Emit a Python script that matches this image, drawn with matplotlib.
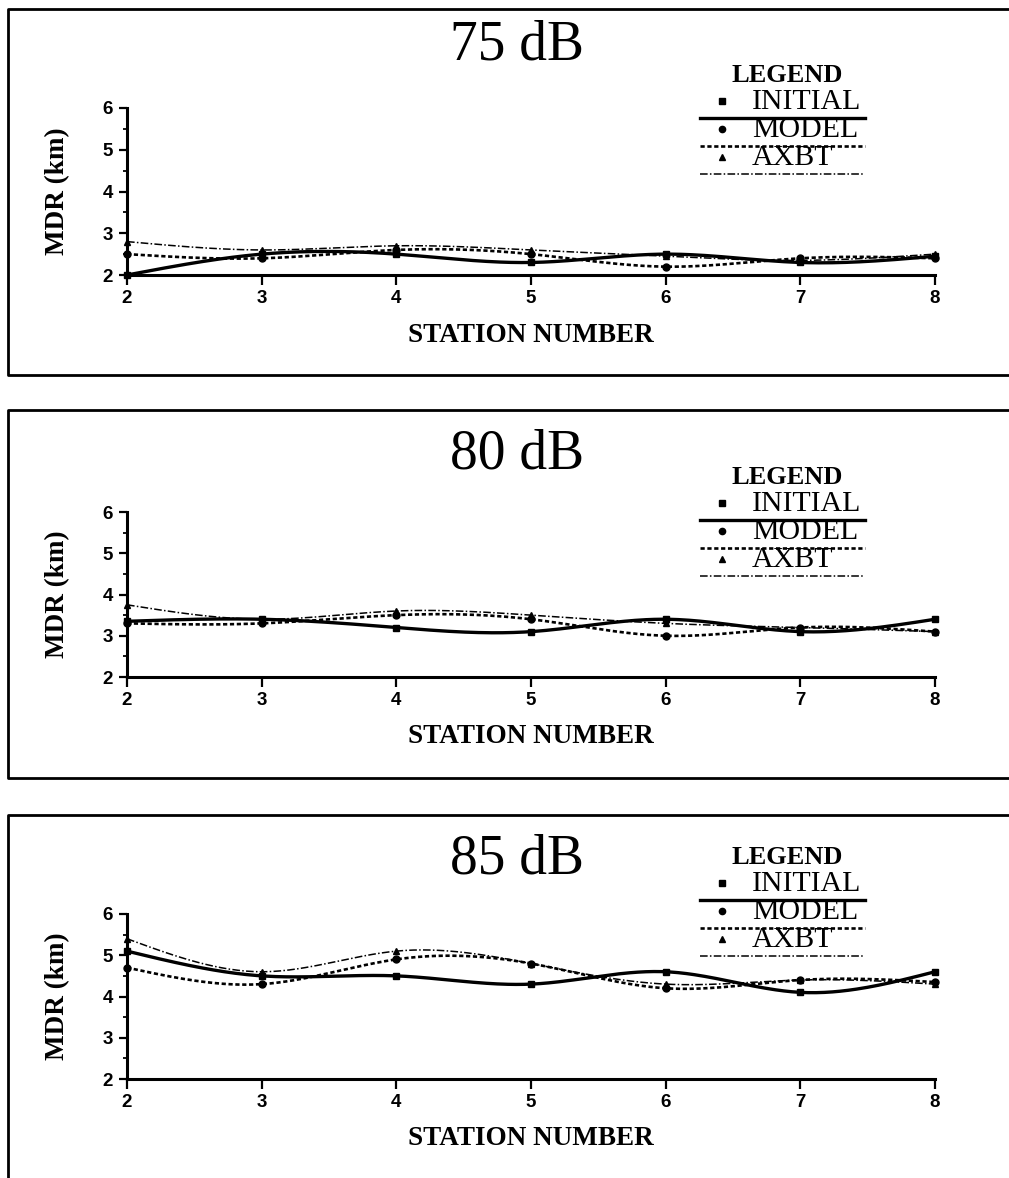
import matplotlib
matplotlib.use("Agg")
import matplotlib.pyplot as plt
import numpy as np
from matplotlib.lines import Line2D
from matplotlib.ticker import MultipleLocator

stations = [2, 3, 4, 5, 6, 7, 8]
levels = ["75 dB", "80 dB", "85 dB"]

# MDR (km) per station for each source level
initial_75 = [2.0, 2.5, 2.5, 2.3, 2.5, 2.3, 2.45]
model_75 = [2.5, 2.4, 2.6, 2.5, 2.2, 2.4, 2.4]
axbt_75 = [2.8, 2.6, 2.7, 2.6, 2.45, 2.35, 2.5]

initial_80 = [3.35, 3.4, 3.2, 3.1, 3.4, 3.1, 3.4]
model_80 = [3.3, 3.3, 3.5, 3.4, 3.0, 3.2, 3.1]
axbt_80 = [3.75, 3.4, 3.6, 3.5, 3.3, 3.2, 3.1]

initial_85 = [5.1, 4.5, 4.5, 4.3, 4.6, 4.1, 4.6]
model_85 = [4.7, 4.3, 4.9, 4.8, 4.2, 4.4, 4.35]
axbt_85 = [5.4, 4.6, 5.1, 4.8, 4.3, 4.4, 4.3]

series_names = ["INITIAL", "MODEL", "AXBT"]
panels = [
    (initial_75, model_75, axbt_75),
    (initial_80, model_80, axbt_80),
    (initial_85, model_85, axbt_85),
]

styles = [
    dict(ls="-", lw=2.4, marker="s"),
    dict(ls=(0, (1.6, 1.0)), lw=1.9, marker="o"),
    dict(ls=(0, (5, 1.5, 1, 1.5)), lw=1.1, marker="^"),
]


def smooth(x, y, n=300):
    # natural cubic spline through the points
    x = np.asarray(x, float)
    y = np.asarray(y, float)
    k = len(x)
    h = np.diff(x)
    A = np.zeros((k, k))
    r = np.zeros(k)
    A[0, 0] = A[-1, -1] = 1.0
    for i in range(1, k - 1):
        A[i, i - 1] = h[i - 1]
        A[i, i] = 2 * (h[i - 1] + h[i])
        A[i, i + 1] = h[i]
        r[i] = 6 * ((y[i + 1] - y[i]) / h[i] - (y[i] - y[i - 1]) / h[i - 1])
    M = np.linalg.solve(A, r)
    xs = np.linspace(x[0], x[-1], n)
    j = np.clip(np.searchsorted(x, xs) - 1, 0, k - 2)
    hj = h[j]
    a = x[j + 1] - xs
    b = xs - x[j]
    ys = (M[j] * a**3 + M[j + 1] * b**3) / (6 * hj) \
        + (y[j] / hj - M[j] * hj / 6) * a + (y[j + 1] / hj - M[j + 1] * hj / 6) * b
    return xs, ys


W, H = 1009, 1178
fig = plt.figure(figsize=(W / 100, H / 100), dpi=100)

serif = "Liberation Serif"
sans = "Liberation Sans"


def fx(px):
    return px / W


def fy(py):
    return 1 - py / H


axis_bottom = [275, 677, 1079]
axis_top = [108, 512, 914]
title_y = [45, 455, 860]
legend_top = [75, 477, 857]
frames = [(9, 375), (410, 778), (815, 1190)]

for p, (vals, lvl) in enumerate(zip(panels, levels)):
    ax = fig.add_axes([fx(127), fy(axis_bottom[p]), fx(935 - 127),
                       (axis_bottom[p] - axis_top[p]) / H])
    for v, st in zip(vals, styles):
        xs, ys = smooth(stations, v)
        ax.plot(xs, ys, color="black", ls=st["ls"], lw=st["lw"], clip_on=False)
        ax.plot(stations, v, ls="none", marker=st["marker"], ms=5,
                color="black", clip_on=False)

    ax.set_xlim(2, 8)
    ax.set_ylim(2, 6)
    ax.set_xticks(stations)
    ax.set_yticks([2, 3, 4, 5, 6])
    ax.yaxis.set_minor_locator(MultipleLocator(0.5))
    for s in ["top", "right"]:
        ax.spines[s].set_visible(False)
    for s in ["left", "bottom"]:
        ax.spines[s].set_linewidth(2.2)
    ax.tick_params(axis="x", direction="out", length=7, width=1.6, pad=4)
    ax.tick_params(axis="y", which="major", direction="out", length=6, width=1.6, pad=4)
    ax.tick_params(axis="y", which="minor", direction="out", length=3, width=1.3)
    for lab in ax.get_xticklabels() + ax.get_yticklabels():
        lab.set_fontfamily(sans)
        lab.set_fontweight("bold")
        lab.set_fontsize(13.5)

    ax.set_xlabel("STATION NUMBER", fontsize=19.5, fontfamily=serif,
                  fontweight="bold", va="center")
    ax.xaxis.set_label_coords(0.5, -(335 - 275) / (axis_bottom[0] - axis_top[0]))
    ax.set_ylabel("MDR (km)", fontsize=19.5, fontfamily=serif,
                  fontweight="bold", va="center")
    ax.yaxis.set_label_coords(-(127 - 58) / 808, 0.5)

    fig.text(fx(517), fy(title_y[p]), lvl, fontsize=40, fontfamily=serif,
             ha="center", va="center")

    # legend block
    top = legend_top[p]
    fig.text(fx(787), fy(top), "LEGEND", fontsize=19, fontfamily=serif,
             fontweight="bold", ha="center", va="center")
    for k, (name, st) in enumerate(zip(series_names, styles)):
        ty = top + 27 + 28 * k
        fig.text(fx(752), fy(ty), name, fontsize=21.5, fontfamily=serif,
                 ha="left", va="center")
        fig.add_artist(Line2D([fx(722)], [fy(ty - 1)], marker=st["marker"],
                              ms=4.5, color="black", ls="none"))
        ly = ty + 16
        fig.add_artist(Line2D([fx(700), fx(865)], [fy(ly), fy(ly)],
                              color="black", ls=st["ls"], lw=st["lw"]))

    # panel frame: left, top and bottom edges
    t, b = frames[p]
    fig.add_artist(Line2D([fx(1009), fx(8), fx(8), fx(1009)],
                          [fy(t), fy(t), fy(b), fy(b)], color="black", lw=2.0))

fig.savefig("out.png", dpi=100, facecolor="white")
